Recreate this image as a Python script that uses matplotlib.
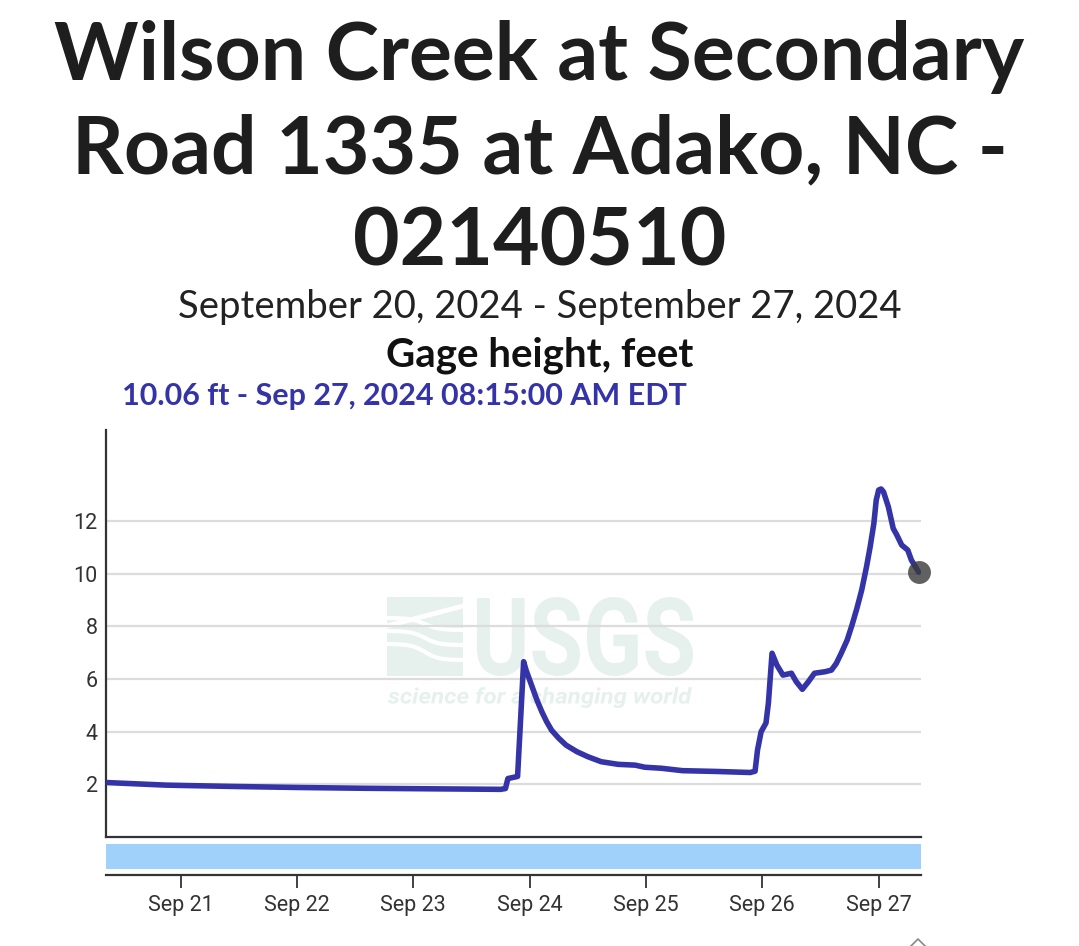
import numpy as np
import pandas as pd
import matplotlib
matplotlib.use("Agg")
import matplotlib.pyplot as plt
import matplotlib.dates as mdates
from matplotlib.patches import Rectangle, PathPatch
from matplotlib.lines import Line2D
from matplotlib.textpath import TextPath
from matplotlib.font_manager import FontProperties
from matplotlib.transforms import Affine2D

# gage height readings (ft)
times = ["2024-09-20 08:30", "2024-09-20 21:00", "2024-09-21 10:45", "2024-09-22 00:30",
         "2024-09-22 14:15", "2024-09-23 04:00", "2024-09-23 18:00", "2024-09-23 19:00",
         "2024-09-23 19:30", "2024-09-23 21:30", "2024-09-23 22:45", "2024-09-23 23:15",
         "2024-09-24 00:00", "2024-09-24 00:45", "2024-09-24 01:30", "2024-09-24 02:30",
         "2024-09-24 03:30", "2024-09-24 04:30", "2024-09-24 06:00", "2024-09-24 07:30",
         "2024-09-24 09:45", "2024-09-24 12:00", "2024-09-24 14:45", "2024-09-24 18:15",
         "2024-09-24 21:45", "2024-09-24 23:45", "2024-09-25 03:15", "2024-09-25 07:30",
         "2024-09-25 14:30", "2024-09-25 21:30", "2024-09-25 22:30", "2024-09-25 23:00",
         "2024-09-25 23:45", "2024-09-26 00:45", "2024-09-26 01:15", "2024-09-26 02:00",
         "2024-09-26 03:00", "2024-09-26 04:15", "2024-09-26 06:00", "2024-09-26 07:00",
         "2024-09-26 08:15", "2024-09-26 09:30", "2024-09-26 10:45", "2024-09-26 13:00",
         "2024-09-26 14:15", "2024-09-26 15:15", "2024-09-26 16:15", "2024-09-26 17:30",
         "2024-09-26 18:30", "2024-09-26 19:30", "2024-09-26 20:30", "2024-09-26 21:30",
         "2024-09-26 22:15", "2024-09-26 23:00", "2024-09-26 23:30", "2024-09-27 00:00",
         "2024-09-27 00:30", "2024-09-27 01:00", "2024-09-27 02:00", "2024-09-27 03:00",
         "2024-09-27 03:45", "2024-09-27 04:45", "2024-09-27 06:00", "2024-09-27 06:45",
         "2024-09-27 08:15"]
gage = [2.07, 1.97, 1.92, 1.88, 1.85, 1.83, 1.81, 1.84,
        2.22, 2.30, 6.66, 6.34, 5.96, 5.58, 5.20, 4.76,
        4.38, 4.06, 3.75, 3.49, 3.24, 3.05, 2.86, 2.76,
        2.73, 2.65, 2.61, 2.52, 2.49, 2.45, 2.50, 3.30,
        4.00, 4.33, 5.09, 6.98, 6.53, 6.15, 6.22, 5.90,
        5.61, 5.90, 6.22, 6.28, 6.34, 6.59, 6.97, 7.48,
        8.05, 8.68, 9.38, 10.27, 11.03, 11.90, 12.80, 13.18,
        13.22, 13.11, 12.54, 11.72, 11.47, 11.09, 10.90, 10.52,
        10.06]
yticks = [2, 4, 6, 8, 10, 12]
title_lines = ["Wilson Creek at Secondary", "Road 1335 at Adako, NC -", "02140510"]
subtitle = "September 20, 2024 - September 27, 2024"
param = "Gage height, feet"
latest = "10.06 ft - Sep 27, 2024 08:15:00 AM EDT"

t = pd.to_datetime(times)
x0, x1 = pd.Timestamp("2024-09-20 08:35"), pd.Timestamp("2024-09-27 08:44")

W, H = 1079, 946
fx = lambda px: px / W
fy = lambda py: 1 - py / H
HEAD = ["Lato", "DejaVu Sans"]
TICK = ["Roboto", "DejaVu Sans"]
LINE = "#3434a8"
INK = "#333333"

fig = plt.figure(figsize=(W / 100, H / 100), dpi=100)

# header
for i, s in enumerate(title_lines):
    fig.text(0.5, fy(57 + 93 * i), s, ha="center", va="center", fontsize=58,
             fontweight="bold", family=HEAD, color="#1e1e1e")
fig.text(0.5, fy(307), subtitle, ha="center", va="center", fontsize=27.5, family=HEAD, color="#222222")
fig.text(0.5, fy(355), param, ha="center", va="center", fontsize=29, fontweight="bold",
         family=HEAD, color="#111111")
fig.text(fx(122), fy(396), latest, ha="left", va="center", fontsize=22, fontweight="bold",
         family=HEAD, color=LINE)

# USGS watermark, behind the chart (axes coords are image pixels)
wm = fig.add_axes([fx(384), fy(710), fx(700) - fx(384), (710 - 592) / H], zorder=0)
wm.set_xlim(384, 700); wm.set_ylim(710, 592); wm.axis("off")
WMC = "#e6f0ed"


def fit_text(s, box, **fp):
    # squeeze a text outline into a pixel box (x0, y0, x1, y1), y0 = top
    p = TextPath((0, 0), s, size=1, prop=FontProperties(**fp))
    e = p.get_extents()
    tr = (Affine2D().translate(-e.x0, -e.y0)
          .scale((box[2] - box[0]) / e.width, -(box[3] - box[1]) / e.height)
          .translate(box[0], box[3]))
    wm.add_patch(PathPatch(tr.transform_path(p), color=WMC, lw=0))


wm.add_patch(Rectangle((387, 597), 76, 79, color=WMC, lw=0))
xx = np.linspace(387, 463, 60)
for off, amp in [(624, 6), (638, 7), (652, 8)]:
    wm.plot(xx, off + amp * np.tanh((xx - 425) / 14), color="white", lw=3.0, solid_capstyle="butt")
wm.plot([463, 387], [606, 626], color="white", lw=3.5)
fit_text("USGS", (477, 597, 693, 676), family="Roboto", weight="bold")
fit_text("science for a changing world", (388, 687, 692, 708), family="Roboto", weight="bold", style="italic")

# main chart
ax = fig.add_axes([fx(106), fy(837), fx(921) - fx(106), (837 - 430) / H], zorder=1)
ax.patch.set_alpha(0)
ax.plot(t, gage, color=LINE, lw=4, solid_joinstyle="round", solid_capstyle="round", zorder=3)
ax.plot(t[-1], gage[-1], "o", ms=16.5, color="#3a3a3a", alpha=0.8, mec="none", zorder=4, clip_on=False)
ax.set_xlim(x0, x1)
ax.set_ylim(0, 15.46)
ax.set_xticks([])
ax.set_yticks(yticks)
ax.yaxis.grid(True, color="#dcdcdc", lw=1.6)
ax.set_axisbelow(True)
ax.tick_params(axis="y", length=0, pad=6, labelsize=15.5, labelcolor=INK)
for lab in ax.get_yticklabels():
    lab.set_family(TICK)
for side in ("top", "right"):
    ax.spines[side].set_visible(False)
for side in ("left", "bottom"):
    ax.spines[side].set_color(INK); ax.spines[side].set_linewidth(1.6)

# navigator strip with date axis
nav = fig.add_axes([fx(106), fy(875), fx(921) - fx(106), (875 - 844) / H])
nav.axhspan(6 / 31, 1, color="#a0d1fb", lw=0)
nav.set_xlim(x0, x1); nav.set_ylim(0, 1)
nav.set_yticks([])
for side in ("top", "right", "left"):
    nav.spines[side].set_visible(False)
nav.spines["bottom"].set_color(INK); nav.spines["bottom"].set_linewidth(1.6)
nav.xaxis.set_major_locator(mdates.DayLocator())
nav.xaxis.set_major_formatter(mdates.DateFormatter("%b %d"))
nav.tick_params(axis="x", length=9.5, width=1.3, color=INK, pad=5, labelsize=15.5, labelcolor=INK)
for lab in nav.get_xticklabels():
    lab.set_family(TICK)

# little chevron at the bottom corner
fig.add_artist(Line2D([fx(911), fx(918), fx(925)], [fy(946), fy(939), fy(946)], color="#888888", lw=1.2))

fig.savefig("out.png", dpi=100)
